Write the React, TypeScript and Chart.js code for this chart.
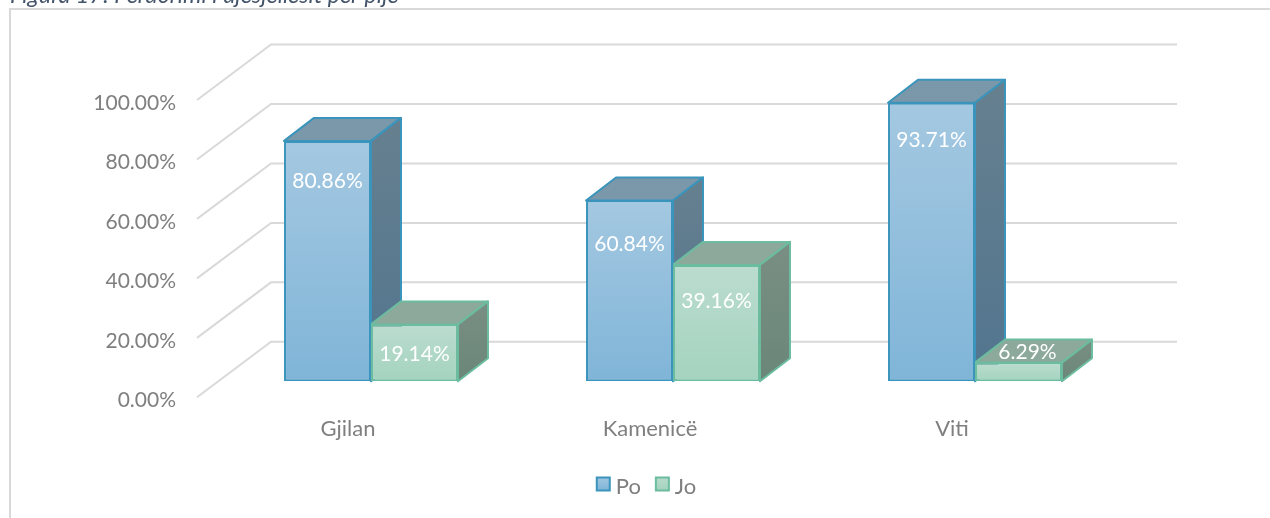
import React, { useEffect, useRef } from "react";
import { Chart, registerables } from "chart.js";

Chart.register(...registerables);

const categories = ["Gjilan", "Kamenicë", "Viti"];
const seriesNames = ["Po", "Jo"];
const poValues = [80.86, 60.84, 93.71];
const joValues = [19.14, 39.16, 6.29];
const tickStep = 20;

const FONT = "Lato, Carlito, sans-serif";
const DEPTH_X = 30;
const DEPTH_Y = 23;
const WALL_FRONT_X = 197;
const WALL_BACK_X = 271;
const WALL_END_X = 1177;
const WALL_FRONT_DY = 16;
const WALL_BACK_DY = -39.5;

const faces = [
  { top: "#7a98aa", sideA: "#66808f", sideB: "#52758f", line: "#3a94bb", a: "#a4c8e1", b: "#80b5d8" },
  { top: "#8ca99b", sideA: "#7a8e84", sideB: "#6a8779", line: "#6cbc9f", a: "#bbdccf", b: "#a4d3bf" },
];
const labelNudges = [
  [[0, 40], [0, 44], [0, 38]],
  [[0, 30], [0, 36], [9, -10]],
];

const threeD = {
  id: "threeD",
  beforeDatasetsDraw(chart: any) {
    const { ctx, scales } = chart;
    const y = scales.y;
    ctx.save();
    ctx.strokeStyle = "#d9d9d9";
    ctx.lineWidth = 2;
    for (let v = 0; v <= 100; v += tickStep) {
      const p = y.getPixelForValue(v);
      ctx.beginPath();
      ctx.moveTo(WALL_FRONT_X, p + WALL_FRONT_DY);
      ctx.lineTo(WALL_BACK_X, p + WALL_BACK_DY);
      ctx.lineTo(WALL_END_X, p + WALL_BACK_DY);
      ctx.stroke();
    }
    const base = y.getPixelForValue(0);
    [0, 1].forEach((di) => {
      const f = faces[di];
      chart.getDatasetMeta(di).data.forEach((bar: any) => {
        const l = bar.x - bar.width / 2;
        const r = bar.x + bar.width / 2;
        const t = bar.y;
        ctx.strokeStyle = f.line;
        ctx.lineWidth = 2;
        ctx.lineJoin = "round";
        ctx.fillStyle = f.top;
        ctx.beginPath();
        ctx.moveTo(l, t);
        ctx.lineTo(l + DEPTH_X, t - DEPTH_Y);
        ctx.lineTo(r + DEPTH_X, t - DEPTH_Y);
        ctx.lineTo(r, t);
        ctx.closePath();
        ctx.fill();
        ctx.stroke();
        const g = ctx.createLinearGradient(0, t - DEPTH_Y, 0, base);
        g.addColorStop(0, f.sideA);
        g.addColorStop(1, f.sideB);
        ctx.fillStyle = g;
        ctx.beginPath();
        ctx.moveTo(r, t);
        ctx.lineTo(r + DEPTH_X, t - DEPTH_Y);
        ctx.lineTo(r + DEPTH_X, base - DEPTH_Y);
        ctx.lineTo(r, base);
        ctx.closePath();
        ctx.fill();
        ctx.stroke();
      });
    });
    ctx.restore();
  },
  afterDatasetsDraw(chart: any) {
    const { ctx } = chart;
    ctx.save();
    ctx.fillStyle = "#ffffff";
    ctx.font = `21px ${FONT}`;
    ctx.textAlign = "center";
    ctx.textBaseline = "middle";
    [poValues, joValues].forEach((vals, di) => {
      chart.getDatasetMeta(di).data.forEach((bar: any, i: number) => {
        const [dx, dy] = labelNudges[di][i];
        ctx.fillText(`${vals[i].toFixed(2)}%`, bar.x + dx, bar.y + dy);
      });
    });
    ctx.restore();
  },
  afterDraw(chart: any) {
    const { ctx } = chart;
    ctx.save();
    ctx.strokeStyle = "#d9d9d9";
    ctx.lineWidth = 2;
    ctx.beginPath();
    ctx.moveTo(10, 518);
    ctx.lineTo(10, 9);
    ctx.lineTo(1270, 9);
    ctx.stroke();
    ctx.fillStyle = "#44546a";
    ctx.font = `italic 23.3px ${FONT}`;
    ctx.textBaseline = "alphabetic";
    ctx.textAlign = "left";
    ctx.fillText("Figura 17: Përdorimi i ujësjellësit për pije", 10, 3);
    // legend swatches, at the positions the library's legend laid out
    chart.legend.legendHitBoxes.forEach((hb: any, i: number) => {
      const f = faces[i];
      const g = ctx.createLinearGradient(0, hb.top, 0, hb.top + 14);
      g.addColorStop(0, f.a);
      g.addColorStop(1, f.b);
      ctx.fillStyle = g;
      ctx.strokeStyle = f.line;
      ctx.lineWidth = 2;
      ctx.beginPath();
      ctx.rect(hb.left + 1, hb.top + 1.5, 13, 13);
      ctx.fill();
      ctx.stroke();
    });
    ctx.restore();
  },
};

export default function App() {
  const ref = useRef<HTMLCanvasElement>(null);
  useEffect(() => {
    const grad = (i: number) => (c: any) => {
      const { ctx, chartArea, scales } = c.chart;
      if (!chartArea || !c.parsed) return faces[i].a;
      const g = ctx.createLinearGradient(0, scales.y.getPixelForValue(c.parsed.y), 0, chartArea.bottom);
      g.addColorStop(0, faces[i].a);
      g.addColorStop(1, faces[i].b);
      return g;
    };
    const chart = new Chart(ref.current!, {
      type: "bar",
      data: {
        labels: categories,
        datasets: [poValues, joValues].map((d, i) => ({
          label: seriesNames[i],
          data: d,
          backgroundColor: grad(i),
          borderColor: faces[i].line,
          borderWidth: 2,
          borderSkipped: false,
          barPercentage: 1,
          categoryPercentage: 0.576,
        })),
      },
      options: {
        animation: false,
        responsive: false,
        layout: { padding: { left: 90, right: 68, top: 84, bottom: 10 } },
        scales: {
          x: {
            grid: { display: false },
            border: { display: false },
            ticks: { color: "#7f7f7f", font: { family: FONT, size: 22 }, padding: 26, labelOffset: -23, maxRotation: 0 },
            afterFit: (s: any) => { s.height = 80.7; },
          },
          y: {
            min: 0,
            max: 100,
            grid: { display: false, drawTicks: false },
            border: { display: false },
            ticks: {
              stepSize: tickStep,
              color: "#7f7f7f",
              font: { family: FONT, size: 21 },
              padding: 44,
              labelOffset: 19,
              callback: (v: any) => `${Number(v).toFixed(2)}%`,
            },
            afterFit: (s: any) => { s.width = 130; },
          },
          // blank right-hand axis: keeps the plot clear of the right margin the legend is centred against
          y2: {
            position: "right",
            min: 0,
            max: 100,
            grid: { display: false, drawTicks: false },
            border: { display: false },
            ticks: { display: false },
            afterFit: (s: any) => { s.width = 76; },
          },
        },
        plugins: {
          title: { display: false },
          tooltip: { enabled: false },
          legend: {
            position: "bottom",
            labels: {
              color: "#7f7f7f",
              font: { family: FONT, size: 22 },
              boxWidth: 9,
              boxHeight: 13,
              padding: 14,
              generateLabels: (c: any) =>
                c.data.datasets.map((ds: any, i: number) => ({
                  text: ds.label,
                  datasetIndex: i,
                  fillStyle: "rgba(0,0,0,0)",
                  strokeStyle: "rgba(0,0,0,0)",
                  lineWidth: 0,
                  fontColor: "#7f7f7f",
                })),
            },
          },
        },
      },
      plugins: [threeD],
    } as any);
    return () => chart.destroy();
  }, []);
  return (
    <div style={{ position: "absolute", left: 0, top: 0, width: 1270, height: 518 }}>
      <canvas ref={ref} width={1270} height={518} style={{ display: "block" }} />
    </div>
  );
}
